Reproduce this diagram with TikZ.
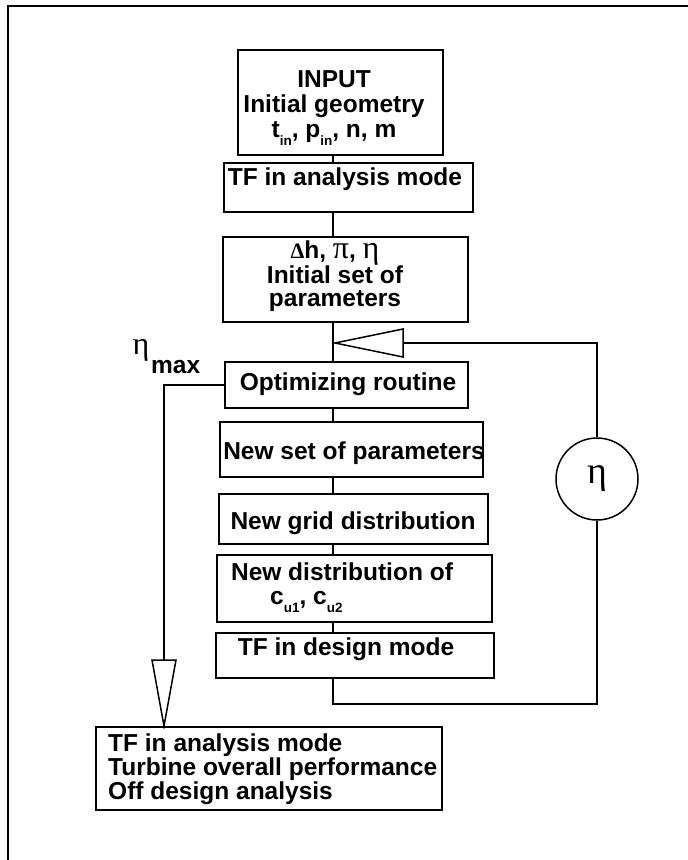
\documentclass[tikz,border=0pt]{standalone}
\usepackage{fontspec}
\setmainfont{Liberation Sans}
\newfontfamily\grk{Liberation Serif}
\usetikzlibrary{fit}
\newcommand\mysub[1]{\raisebox{-0.3em}{\fontsize{13.5}{13.5}\selectfont #1}}
\tikzset{
  box/.style={draw, line width=1.6pt, rectangle, inner sep=0pt},
  lbl/.style={font=\fontsize{24.5}{24}\selectfont\bfseries, inner sep=0pt, align=center},
  ln/.style={line width=1.5pt},
  tri/.style={draw, line width=1.5pt, fill=white, line join=miter}
}
\begin{document}
\begin{tikzpicture}[x=1pt,y=-1pt]
\useasboundingbox (0,0) rectangle (688,860);
\fill[white] (0,0) rectangle (688,860);
% frame
\draw[line width=1.8pt] (8,860) -- (8,6) -- (688,6);
% boxes
\node[box, fit={(238,50) (443,155)}] (in) {};
\node[box, fit={(224,163) (473,212)}] (tfa) {};
\node[box, fit={(223,237) (468,322)}] (par) {};
\node[box, fit={(225,362) (468,408)}] (opt) {};
\node[box, fit={(220,422) (483,477)}] (nsp) {};
\node[box, fit={(219,494) (488,544)}] (ngd) {};
\node[box, fit={(217,555) (492,622)}] (ndc) {};
\node[box, fit={(216,633) (494,678)}] (tfd) {};
\node[box, fit={(96,727) (442,810)}] (fin) {};
% texts
\node[lbl, font=\fontsize{24.5}{25}\selectfont\bfseries] (inT) at (334,108) {INPUT\\Initial geometry\\t\mysub{in}, p\mysub{in}, n, m};
\node[lbl] (tfaT) at (345,179) {TF in analysis mode};
\node[lbl, font=\fontsize{24.5}{23}\selectfont\bfseries] (parT) at (335,276)
  {{\grk\fontsize{22}{20}\selectfont Δ}h, {\grk\fontsize{32}{20}\selectfont\mdseries π}, {\grk\fontsize{32}{20}\selectfont\mdseries η}\\Initial set of\\parameters};
\node[lbl] (optT) at (348,384) {Optimizing routine};
\node[lbl] (nspT) at (354,453) {New set of parameters};
\node[lbl] (ngdT) at (353,523) {New grid distribution};
\node[lbl] (ndcT) at (342,572) {New distribution of};
\node[lbl, anchor=west] (ndcS) at (270,602) {c\mysub{u1}, c\mysub{u2}};
\node[lbl] (tfdT) at (346,649) {TF in design mode};
\node[lbl, align=left, anchor=west] (finT) at (108,769)
  {TF in analysis mode\\Turbine overall performance\\Off design analysis};
% eta max label
\node[inner sep=0pt, font=\grk\fontsize{32}{32}\selectfont] (etaM) at (141,350) {η};
\node[lbl, anchor=west] (maxT) at (151,367) {max};
% eta circle
\node[draw, circle, line width=1.5pt, minimum size=82pt, inner sep=0pt,
      font=\grk\fontsize{38}{38}\selectfont] (circ) at (597,479) {η};
% spine
\coordinate (sp) at (333,0);
\draw[ln] (in.south -| sp) -- (tfa.north -| sp);
\draw[ln] (tfa.south -| sp) -- (par.north -| sp);
\draw[ln] (par.south -| sp) -- (opt.north -| sp);
\draw[ln] (opt.south -| sp) -- (nsp.north -| sp);
\draw[ln] (nsp.south -| sp) -- (ngd.north -| sp);
\draw[ln] (ngd.south -| sp) -- (ndc.north -| sp);
\draw[ln] (ndc.south -| sp) -- (tfd.north -| sp);
% feedback loop
\coordinate (lb) at (0,704);
\coordinate (lt) at (0,343);
\coordinate (t1tip) at (335,343);
\coordinate (t1base) at (403,343);
\draw[ln] (tfd.south -| sp) -- (lb -| sp) -- (lb -| circ) -- (circ.south);
\draw[ln] (circ.north) -- (lt -| circ) -- (t1base);
\draw[tri] (t1tip) -- (403,329) -- (403,357) -- cycle;
% exit branch
\coordinate (lx) at (164,0);
\coordinate (t2top) at (164,660);
\coordinate (t2tip) at (164,726);
\draw[ln] (opt.west) -- (opt.west -| lx) -- (t2top);
\draw[tri] (t2tip) -- (152,660) -- (176,660) -- cycle;
\end{tikzpicture}
\end{document}
